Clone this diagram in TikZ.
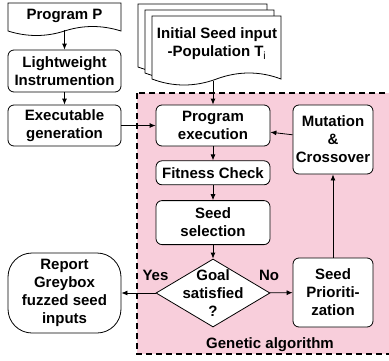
\documentclass[tikz,border=0pt]{standalone}
\usepackage{fontspec}
\setmainfont{Liberation Sans}
\usetikzlibrary{positioning, arrows.meta, shapes.geometric}
\definecolor{gapink}{RGB}{248,206,219}
\tikzset{
  x=1pt, y=-1pt,
  >={Latex[length=6pt,width=5pt]},
  every node/.style={font=\fontsize{15}{18}\selectfont\bfseries, align=center},
  box/.style={draw, thick, rounded corners=6pt, fill=white, inner sep=1pt},
  docline/.style={draw, thick, fill=white},
  flow/.style={->, thick},
}

\begin{document}
\begin{tikzpicture}
  \useasboundingbox (0,0) rectangle (389,360);

  % genetic algorithm region
  \draw[fill=gapink, dashed, line width=1.6pt, dash pattern=on 6pt off 4pt]
    (137,93) rectangle (395,354);
  \node (galabel) at (270,345) {Genetic algorithm};

  % program document
  \path[docline] (8,3) -- (121,3) -- (121,31)
    .. controls (102,25) and (83,25) .. (64.5,31)
    .. controls (46,37) and (27,37) .. (8,31) -- cycle;
  \node[minimum width=113pt, minimum height=28pt, inner sep=0pt] (prog) at (64.5,16) {Program P};

  % seed population (stacked pages)
  \path[docline] (138,4) -- (267,4) -- (267,67)
    .. controls (246,59) and (224,59) .. (202.5,67)
    .. controls (181,75) and (159,75) .. (138,67) -- cycle;
  \path[docline] (145,10) -- (274,10) -- (274,73)
    .. controls (253,65) and (231,65) .. (209.5,73)
    .. controls (188,81) and (166,81) .. (145,73) -- cycle;
  \path[docline] (152,16) -- (281,16) -- (281,79)
    .. controls (260,71) and (238,71) .. (216.5,79)
    .. controls (195,87) and (173,87) .. (152,79) -- cycle;
  \node (seed) at (217,44) {Initial Seed input\\-Population T\textsubscript{\normalfont i}};
  \coordinate (seedB) at (213,81);

  % left column
  \node[box, minimum width=113pt, minimum height=42pt] (light) at (64.5,71) {Lightweight\\Instrumention};
  \node[box, minimum width=113pt, minimum height=41pt] (exec) at (64.5,125.5) {Executable\\generation};
  \node[box, minimum width=113pt, minimum height=80pt, rounded corners=24pt] (report) at (64.5,293)
    {Report\\Greybox\\fuzzed seed\\inputs};

  % middle column
  \node[box, minimum width=114pt, minimum height=41pt] (progexec) at (213,125.5) {Program\\execution};
  \node[box, minimum width=114pt, minimum height=24pt, below=14pt of progexec] (fit) {Fitness Check};
  \node[box, minimum width=114pt, minimum height=44pt, below=15pt of fit] (sel) {Seed\\selection};
  \node[draw, thick, fill=white, diamond, minimum width=114pt, minimum height=68pt, inner sep=0pt] (goal) at (213,293) {};
  \node at (goal) {Goal\\satisfied\\?};

  % right column
  \node[box, minimum width=80pt, minimum height=69pt] (mut) at (333,139.5) {Mutation\\\&\\Crossover};
  \node[box, minimum width=80pt, minimum height=69pt] (prio) at (333,292.5) {Seed\\Prioriti-\\zation};

  % connections
  \draw[flow] (prog.south) -- (light);
  \draw[flow] (light) -- (exec);
  \draw[flow] (exec) -- (progexec);
  \draw[flow] (seedB) -- (progexec);
  \draw[flow] (progexec) -- (fit);
  \draw[flow] (fit) -- (sel);
  \draw[flow] (sel) -- (goal);
  \draw[flow] (goal) -- (prio);
  \node (no) at (269,275) {No};
  \draw[flow] (goal.west) -- (report.east);
  \node (yes) at (155.5,275) {Yes};
  \draw[flow] (prio) -- (mut);
  \draw[flow] (mut) -- (progexec);
\end{tikzpicture}
\end{document}
